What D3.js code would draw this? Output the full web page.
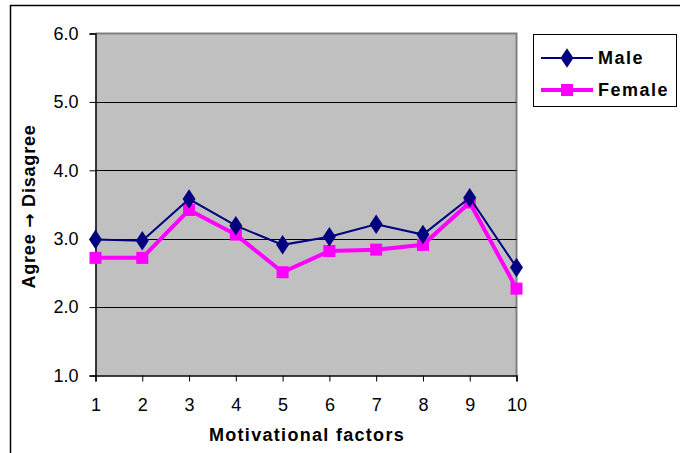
<!DOCTYPE html>
<html>
<head>
<meta charset="utf-8">
<script src="https://cdn.jsdelivr.net/npm/d3@7"></script>
<style>
body{margin:0;background:#fff;}
svg{display:block;}
text{font-family:"Liberation Sans",Arial,sans-serif;}
</style>
</head>
<body>
<svg id="chart" width="680" height="453"></svg>
<script>
const categories = ["1","2","3","4","5","6","7","8","9","10"];
const maleValues = [2.99, 2.97, 3.58, 3.19, 2.91, 3.03, 3.21, 3.06, 3.60, 2.58];
const femaleValues = [2.72, 2.72, 3.42, 3.06, 2.51, 2.82, 2.84, 2.91, 3.53, 2.27];
const yTicks = [1, 2, 3, 4, 5, 6];
const seriesNames = ["Male", "Female"];
const xTitle = "Motivational factors";
const yTitleParts = ["Agree ", "\u2192", " Disagree"];

const svg = d3.select("#chart");
const L = 95.5, R = 516.5, T = 33.5, B = 375.5;

// outer frame
svg.append("line").attr("x1",10.5).attr("x2",10.5).attr("y1",5).attr("y2",453).attr("stroke","#000").attr("stroke-width",1.5);
svg.append("line").attr("x1",10).attr("x2",680).attr("y1",5.5).attr("y2",5.5).attr("stroke","#000").attr("stroke-width",1.5);

const x = d3.scalePoint().domain(categories).range([L, R]);
const y = d3.scaleLinear().domain([1, 6]).range([B, T]);

// plot background
svg.append("rect").attr("x",L).attr("y",T).attr("width",R-L).attr("height",B-T).attr("fill","#c0c0c0");
svg.append("path").attr("d",`M${L},${T}H${R}V${B}`).attr("fill","none").attr("stroke","#808080").attr("stroke-width",2);

// gridlines
svg.append("g").selectAll("line").data(yTicks.filter(d=>d>1 && d<6)).join("line")
  .attr("x1",L).attr("x2",R).attr("y1",d=>Math.round(y(d))+0.5).attr("y2",d=>Math.round(y(d))+0.5)
  .attr("stroke","#000").attr("stroke-width",1);

// y axis
const yAxis = d3.axisLeft(y).tickValues(yTicks).tickFormat(d3.format(".1f")).tickSizeOuter(0).tickSize(6).tickPadding(11);
const gy = svg.append("g").attr("transform",`translate(${L},0)`).call(yAxis);
gy.attr("font-size",null).attr("font-family",null);
gy.selectAll("text").style("font-size","18px").attr("fill","#000");
gy.select(".domain").attr("stroke","#000").attr("stroke-width",1.5);
gy.selectAll(".tick line").attr("stroke","#000");

// x axis
const xAxis = d3.axisBottom(x).tickSizeOuter(0).tickSize(6).tickPadding(17);
const gx = svg.append("g").attr("transform",`translate(0,${B})`).call(xAxis);
gx.attr("font-size",null).attr("font-family",null);
gx.selectAll("text").style("font-size","18px").attr("fill","#000");
gx.select(".domain").attr("stroke","#000").attr("stroke-width",1.5);
gx.selectAll(".tick line").attr("stroke","#000");

// axis titles
svg.append("text").attr("x",(L+R)/2+1).attr("y",441).attr("text-anchor","middle")
  .style("font-size","18px").style("letter-spacing","1.3px").attr("font-weight","bold").text(xTitle);
const yt = svg.append("text").attr("transform",`translate(35,${(T+B)/2+2}) rotate(-90)`).attr("text-anchor","middle")
  .style("font-size","18px").style("letter-spacing","0.8px").attr("font-weight","bold");
yt.selectAll("tspan").data(yTitleParts).join("tspan")
  .style("font-family",(d,i)=>i===1 ? "'DejaVu Sans', sans-serif" : null)
  .style("font-size",(d,i)=>i===1 ? "17px" : null)
  .text(d=>d);

const line = d3.line().x((d,i)=>x(categories[i])).y(d=>y(d));
const maleColor = "#000080", femaleColor = "#ff00ff";

// female
svg.append("path").datum(femaleValues).attr("d",line).attr("fill","none").attr("stroke",femaleColor).attr("stroke-width",4);
svg.append("g").selectAll("rect").data(femaleValues).join("rect")
  .attr("x",(d,i)=>x(categories[i])-6).attr("y",d=>y(d)-6).attr("width",12).attr("height",12).attr("fill",femaleColor);

// male
svg.append("path").datum(maleValues).attr("d",line).attr("fill","none").attr("stroke",maleColor).attr("stroke-width",2);
const diamond = d3.symbol().type(d3.symbolDiamond).size(110);
svg.append("g").selectAll("path").data(maleValues).join("path")
  .attr("transform",(d,i)=>`translate(${x(categories[i])},${y(d)}) scale(1.15,1)`).attr("d",diamond).attr("fill",maleColor);

// legend
const lg = svg.append("g");
lg.append("rect").attr("x",533.5).attr("y",34.5).attr("width",143).attr("height",72).attr("fill","#fff").attr("stroke","#000").attr("stroke-width",1);
const legendRows = [
  {name: seriesNames[0], color: maleColor, w: 2, y: 58},
  {name: seriesNames[1], color: femaleColor, w: 4, y: 90}
];
legendRows.forEach((r,i)=>{
  lg.append("line").attr("x1",541).attr("x2",593).attr("y1",r.y).attr("y2",r.y).attr("stroke",r.color).attr("stroke-width",r.w);
  if(i===0){
    lg.append("path").attr("transform",`translate(567,${r.y}) scale(1.15,1)`).attr("d",diamond).attr("fill",r.color);
  } else {
    lg.append("rect").attr("x",561).attr("y",r.y-6).attr("width",12).attr("height",12).attr("fill",r.color);
  }
  lg.append("text").attr("x",598).attr("y",r.y+6).style("font-size","18px").style("letter-spacing","1.5px").attr("font-weight","bold").text(r.name);
});
</script>
</body>
</html>
